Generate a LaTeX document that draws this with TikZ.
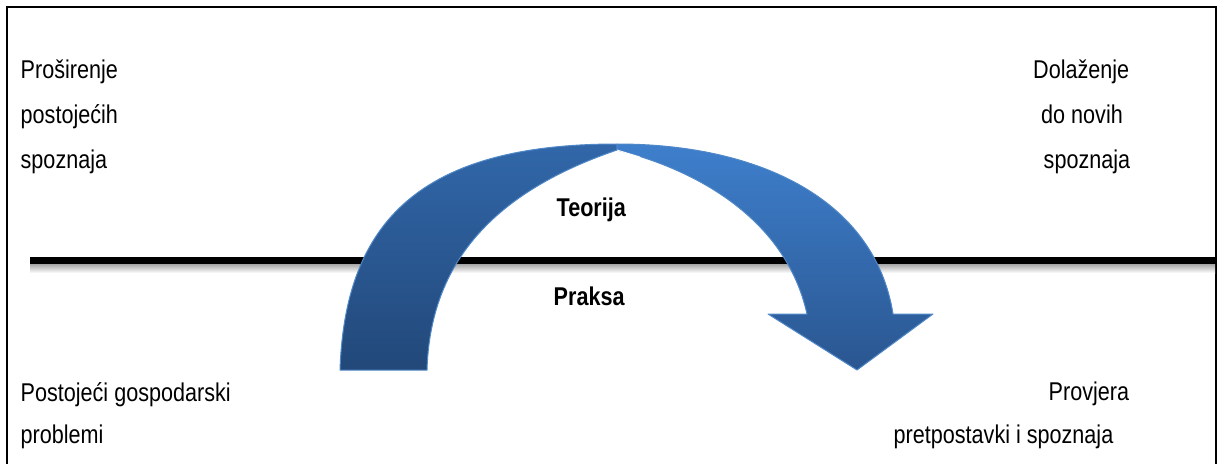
\documentclass[tikz,border=0pt]{standalone}
\usepackage{fontspec}
\setmainfont{Liberation Sans}[FakeStretch=0.84]

\definecolor{lefttop}{HTML}{3167A9}
\definecolor{leftbot}{HTML}{224879}
\definecolor{righttop}{HTML}{3E7FCC}
\definecolor{rightbot}{HTML}{2A5690}
\definecolor{bandrim}{HTML}{5088C8}

\begin{document}
\begin{tikzpicture}[x=1pt,y=-1pt,
    txt/.style={anchor=base west, inner sep=0pt, font=\fontsize{25.7}{30}\selectfont},
    boldtxt/.style={txt, font=\fontsize{25.7}{30}\selectfont\bfseries},
    band/.style={draw=bandrim, line width=1pt, line join=round}]

	\clip (0,0) rectangle (1217,463);
	\fill[white] (0,0) rectangle (1217,463);

	% Frame (open at the bottom)
	\draw[line width=2pt] (7,475) -- (7,7) -- (1215.5,7) -- (1215.5,475);

	% Dividing line
	\fill[top color=black!35, bottom color=white] (30,264) rectangle (1215,273);
	\draw[line width=7pt] (30,260.5) coordinate (lineL) -- (1215,260.5) coordinate (lineR);

	% Curved arrow
	\coordinate (crest) at (617,144);
	\coordinate (crease) at (617,150);
	% left band
	\draw[band, top color=lefttop, bottom color=leftbot]
	    (340,370) .. controls (345,222) and (420,144) .. (crest) -- (crease)
	    .. controls (485,195) and (430,270) .. (427,370) -- cycle;
	% right band with head
	\draw[band, top color=righttop, bottom color=rightbot]
	    (crest) .. controls (760,144) and (875,200) .. (893,314)
	    -- (933,314) -- (857,370) coordinate (tip) -- (768,314) -- (807,314)
	    .. controls (785,215) and (690,168) .. (crease) -- cycle;
	\draw[white, line width=0.8pt] (crease) -- (640,157);

	% Labels on the line
	\node[boldtxt] (teorija) at (556.5,216) {Teorija};
	\node[boldtxt] (praksa) at (553.5,305) {Praksa};

	% Top left
	\node[txt] (pros) at (20.5,78.3) {Proširenje};
	\node[txt] (post) at (20.5,123.3) {postojećih};
	\node[txt] (spozL) at (20.5,168.3) {spoznaja};

	% Top right
	\node[txt] (dola) at (1033,78.3) {Dolaženje};
	\node[txt] (novih) at (1041,123.3) {do novih};
	\node[txt] (spozR) at (1043.5,168.3) {spoznaja};

	% Bottom left
	\node[txt] (gosp) at (20.5,401.7) {Postojeći gospodarski};
	\node[txt] (probl) at (20.5,443) {problemi};

	% Bottom right
	\node[txt] (provj) at (1048.5,400) {Provjera};
	\node[txt] (pretp) at (893.5,443) {pretpostavki i spoznaja};

\end{tikzpicture}
\end{document}
